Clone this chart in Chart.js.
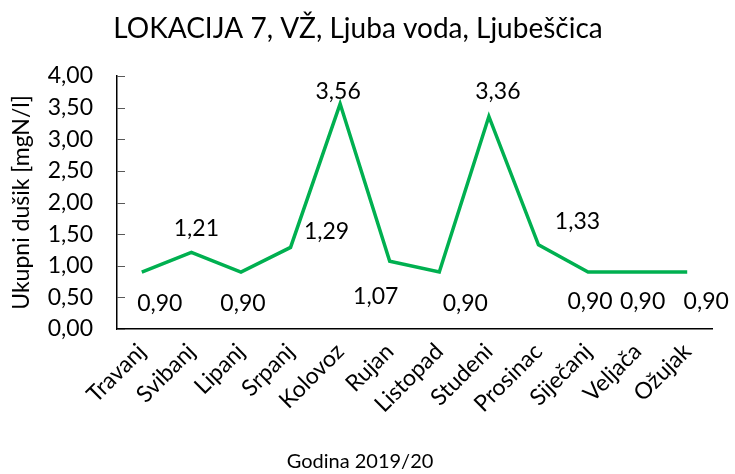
<!DOCTYPE html>
<html>
<head>
<meta charset="utf-8">
<script src="https://cdn.jsdelivr.net/npm/chart.js@4.4.0/dist/chart.umd.min.js"></script>
<style>
  html,body{margin:0;padding:0;background:#fff;}
  #wrap{width:735px;height:474px;}
</style>
</head>
<body>
<div id="wrap"><canvas id="c" width="735" height="474"></canvas></div>
<script>
// --- data ---
const months = ['Travanj','Svibanj','Lipanj','Srpanj','Kolovoz','Rujan','Listopad','Studeni','Prosinac','Siječanj','Veljača','Ožujak'];
const nitrogen = [0.90,1.21,0.90,1.29,3.56,1.07,0.90,3.36,1.33,0.90,0.90,0.90];
const yTicks = [0,0.5,1,1.5,2,2.5,3,3.5,4];

// label offsets from the point (px), like Excel's hand placed labels
const labelShift = [[18,32],[5,-24],[2,32],[36,-16],[-2,-12],[-14,35],[26,32],[9,-25],[39,-23],[2,30],[5,30],[19,30]];

const FONT = 'Lato, "Open Sans", sans-serif';
const fmt = v => v.toFixed(2).replace('.', ',');

const extras = {
  id:'extras',
  afterDraw(chart){
    const ctx = chart.ctx, y = chart.scales.y, area = chart.chartArea;
    ctx.save();
    // inside tick marks on y axis
    ctx.strokeStyle = '#595959'; ctx.lineWidth = 1;
    yTicks.forEach(t=>{
      const py = Math.round(y.getPixelForValue(t))+0.5;
      ctx.beginPath(); ctx.moveTo(area.left, py); ctx.lineTo(area.left+8, py); ctx.stroke();
    });
    // data labels
    const meta = chart.getDatasetMeta(0);
    ctx.fillStyle = '#000';
    ctx.font = '23px ' + FONT;
    ctx.textAlign = 'center'; ctx.textBaseline = 'middle';
    meta.data.forEach((pt,i)=>{
      const s = labelShift[i];
      ctx.fillText(fmt(nitrogen[i]), pt.x + s[0], pt.y + s[1]);
    });
    // title + x axis title
    ctx.font = '28px ' + FONT;
    ctx.fillText('LOKACIJA 7, VŽ, Ljuba voda, Ljubeščica', 358, 29);
    ctx.font = '20px ' + FONT;
    ctx.fillText('Godina 2019/20', 360, 462);
    ctx.restore();
  }
};

new Chart(document.getElementById('c'), {
  type:'line',
  data:{
    labels: months,
    datasets:[{
      data: nitrogen,
      borderColor:'#00B050',
      borderWidth:3.5,
      pointRadius:0,
      tension:0,
      fill:false
    }]
  },
  options:{
    responsive:false,
    animation:false,
    layout:{padding:{top:76,right:23,left:0,bottom:0}},
    plugins:{legend:{display:false},tooltip:{enabled:false},title:{display:false}},
    scales:{
      x:{
        offset:true,
        grid:{display:false, drawTicks:false},
        border:{display:true,color:'#000',width:1.5},
        ticks:{color:'#000',font:{family:FONT,size:23},maxRotation:45,minRotation:45,padding:9,autoSkip:false},
        afterFit(s){ s.height = 145; }
      },
      y:{
        min:0,max:4,
        afterBuildTicks(s){ s.ticks = yTicks.map(v=>({value:v})); },
        grid:{display:false, drawTicks:false},
        border:{display:true,color:'#000',width:1.5},
        ticks:{color:'#000',font:{family:FONT,size:23},padding:24,callback:v=>fmt(v)},
        title:{display:true,text:'Ukupni dušik [mgN/l]',color:'#000',font:{family:FONT,size:23},padding:{top:8,bottom:0}},
        afterFit(s){ s.width = 117; }
      }
    }
  },
  plugins:[extras]
});
</script>
</body>
</html>
